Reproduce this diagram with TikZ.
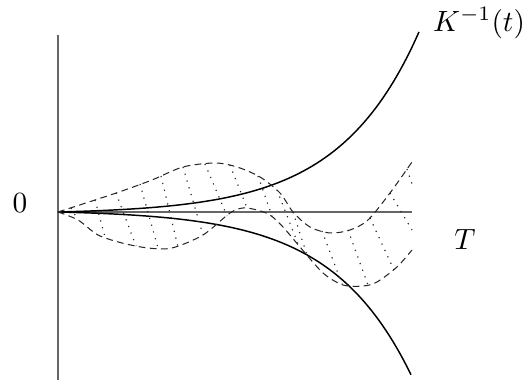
\documentclass[tikz,border=0pt]{standalone}
\usepackage{amsmath}
\usetikzlibrary{positioning}

\begin{document}
\begin{tikzpicture}[
  x=0.012cm, y=0.012cm,
  axis/.style={draw=black!60, line width=0.5pt},
  bound/.style={draw=black, line width=0.5pt},
  traj/.style={draw=black!85, line width=0.35pt, dash pattern=on 2.3pt off 1.5pt},
  hatch/.style={draw=black!85, line width=0.4pt, dotted},
  lbl/.style={inner sep=0pt}
]
\useasboundingbox (-58,-173) rectangle (470,212);

\coordinate (o) at (0,0);
\coordinate (ytop) at (0,177);
\coordinate (ybot) at (0,-168);
\coordinate (tend) at (354,0);

\draw[axis] (ybot) -- (ytop);
\draw[axis] (o) -- (tend);

\node[lbl] (zero) at (-38,9) {$0$};
\node[lbl] (tlab) at (407,-28) {$T$};
\node[lbl] (klab) at (421,189) {$K^{-1}(t)$};

\draw[bound, domain=0:361, samples=100] plot (\x,{2*(exp(0.0125*\x)-1)});
\draw[bound, domain=0:353, samples=100] plot (\x,{-2*(exp(0.0125*\x)-1)});

\draw[traj] plot[smooth] coordinates {(0,0) (34,11) (64,21) (94,32) (125,45) (157,49) (179,45)
  (202,35) (222,19) (235,0) (252,-15) (272,-21) (292,-18) (310,-8) (332,19) (354,50)};
\draw[traj] plot[smooth] coordinates {(0,0) (20,-8) (40,-23) (64,-31) (90,-36) (114,-36) (145,-23)
  (172,-1) (185,4) (199,2) (212,-3) (225,-15) (242,-35) (265,-61) (285,-73) (305,-74)
  (319,-70) (339,-55) (354,-38)};

\foreach \ax/\ay/\bx/\by in {13/4/20/-8, 37/12/47/-25, 58/19/78/-34, 82/28/100/-36,
    103/36/120/-35, 125/45/145/-23, 147/48/169/-4, 172/47/189/4, 200/36/214/-4,
    219/22/240/-32, 235/0/249/-43, 264/-19/284/-72, 290/-18/310/-73, 312/-6/336/-58,
    332/19/354/-18, 349/43/354/28}
  \draw[hatch] (\ax,\ay) -- (\bx,\by);
\end{tikzpicture}
\end{document}
